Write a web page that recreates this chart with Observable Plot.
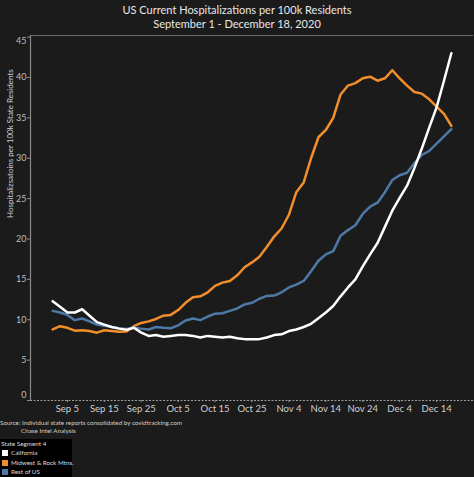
<!DOCTYPE html>
<html><head><meta charset="utf-8">
<script src="https://cdn.jsdelivr.net/npm/d3@7"></script>
<script src="https://cdn.jsdelivr.net/npm/@observablehq/plot@0.6"></script>
<style>
body{margin:0;background:#1b1b1b;width:474px;height:477px;overflow:hidden;font-family:Lato,sans-serif;color:#ddd;}
#wrap{position:relative;width:474px;height:477px;}
#title{position:absolute;top:3px;left:0;width:474px;text-align:center;font-size:11px;line-height:14px;color:#e8e8e8;}
#chart{position:absolute;top:32px;left:0;}
#cap{position:absolute;top:419px;left:0;font-size:6.3px;line-height:8px;color:#cfcfcf;white-space:nowrap;}
#cap div:nth-child(2){padding-left:21px;}
#legend{position:absolute;left:0;top:439px;width:72px;height:38px;background:#000;font-size:6.3px;color:#ddd;white-space:nowrap;}
#legend .t{position:absolute;left:1px;top:1px;}
#legend .r{position:absolute;left:2px;height:8px;line-height:7px;white-space:nowrap;}
#legend .s{display:inline-block;width:6px;height:6px;vertical-align:middle;margin-right:3px;}
</style>
</head><body>
<div id="wrap">
  <div id="title"><div>US Current Hospitalizations per 100k Residents</div><div>September 1 - December 18, 2020</div></div>
  <div id="chart"></div>
  <div id="cap"><div>Source: Individual state reports consolidated by covidtracking.com</div><div>Chase Intel Analysis</div></div>
  <div id="legend"></div>
</div>
<script>
const dates = [
 "2020-09-01","2020-09-03","2020-09-05","2020-09-07","2020-09-09","2020-09-11","2020-09-13","2020-09-15","2020-09-17","2020-09-19","2020-09-21","2020-09-23","2020-09-25","2020-09-27","2020-09-29",
 "2020-10-01","2020-10-03","2020-10-05","2020-10-07","2020-10-09","2020-10-11","2020-10-13","2020-10-15","2020-10-17","2020-10-19","2020-10-21","2020-10-23","2020-10-25","2020-10-27","2020-10-29","2020-10-31",
 "2020-11-02","2020-11-04","2020-11-06","2020-11-08","2020-11-10","2020-11-12","2020-11-14","2020-11-16","2020-11-18","2020-11-20","2020-11-22","2020-11-24","2020-11-26","2020-11-28","2020-11-30",
 "2020-12-02","2020-12-04","2020-12-06","2020-12-08","2020-12-10","2020-12-12","2020-12-14","2020-12-16","2020-12-18"
];
const seriesNames = ["California","Midwest & Rock Mtns.","Rest of US"];
const seriesColors = ["#ffffff","#f28e2b","#4e79a7"];
const california = [12.3,11.6,10.9,10.9,11.3,10.5,9.7,9.4,9.1,8.9,8.75,9.0,8.4,8.0,8.1,
 7.9,8.0,8.1,8.1,8.0,7.8,8.0,7.9,7.8,7.9,7.7,7.6,7.6,7.6,7.8,8.1,
 8.2,8.6,8.8,9.1,9.5,10.2,10.9,11.7,12.9,14.0,15.0,16.6,18.1,19.5,21.5,
 23.5,25.1,26.6,28.8,31.2,33.8,36.3,39.6,43.0];
const midwest = [8.8,9.2,9.0,8.65,8.7,8.6,8.4,8.7,8.6,8.5,8.55,9.2,9.6,9.8,10.1,
 10.5,10.6,11.2,12.1,12.8,12.9,13.4,14.2,14.6,14.8,15.5,16.5,17.1,17.8,19.0,20.3,
 21.3,23.0,25.8,27.0,30.0,32.6,33.5,35.0,37.9,39.0,39.3,39.9,40.1,39.6,39.9,
 40.9,39.9,39.0,38.2,38.0,37.3,36.4,35.5,34.0];
const restOfUS = [11.1,10.9,10.6,9.95,10.15,9.8,9.4,9.25,9.1,8.95,8.85,9.05,8.9,8.8,9.1,
 9.0,8.95,9.3,9.9,10.15,9.95,10.4,10.75,10.8,11.1,11.4,11.9,12.1,12.6,12.95,13.0,
 13.4,14.0,14.35,14.8,16.0,17.3,18.1,18.5,20.4,21.1,21.7,23.1,24.0,24.5,25.8,
 27.3,27.9,28.2,29.4,30.4,30.9,31.8,32.7,33.6];
const xTickLabels = ["2020-09-05","2020-09-15","2020-09-25","2020-10-05","2020-10-15","2020-10-25","2020-11-04","2020-11-14","2020-11-24","2020-12-04","2020-12-14"];
const yTicks = [0,5,10,15,20,25,30,35,40,45];
const yLabel = "Hospitalizsatoins per 100k State Residents";
const legendTitle = "State Segment 4";

const parse = d3.utcParse("%Y-%m-%d");
const values = [california, midwest, restOfUS];
const rows = [];
[1,2,0].forEach(si => values[si].forEach((v,i) => rows.push({date: parse(dates[i]), value: v, series: seriesNames[si]})));
const xMin = parse("2020-08-26"), xMax = parse("2020-12-24");
const yMax = 45.2;

const chart = Plot.plot({
  width: 474, height: 386,
  marginLeft: 30, marginRight: 1, marginTop: 3, marginBottom: 18,
  style: {background: "transparent", color: "#bdbdbd", fontFamily: "Lato, sans-serif", fontSize: "9px", overflow: "visible"},
  x: {type: "utc", domain: [xMin, xMax]},
  y: {domain: [0, yMax]},
  color: {domain: seriesNames, range: seriesColors},
  marks: [
    Plot.ruleY([yMax], {stroke: "#6a6a6a", strokeWidth: 1.2}),
    Plot.ruleX([xMin], {stroke: "#8a8a8a", strokeWidth: 1.2}),
    Plot.ruleY([0], {stroke: "#9a9a9a", strokeDasharray: "2,1.5"}),
    Plot.axisY({ticks: yTicks, tickSize: 3, tickFormat: () => "", label: null, stroke: "#8a8a8a"}),
    Plot.text(yTicks, {y: d => d === 0 ? 0.7 : d === 45 ? 44.5 : d, text: d => String(d), frameAnchor: "left", dx: -4, textAnchor: "end", fill: "#bdbdbd", fontSize: 9}),
    Plot.axisX({ticks: xTickLabels.map(parse), tickFormat: d3.utcFormat("%b %-d"), tickSize: 2, tickPadding: 3, label: null, fontSize: 9.5, stroke: "#9a9a9a", fill: "#cfcfcf"}),
    Plot.text([yLabel], {frameAnchor: "left", rotate: -90, dx: -20, fill: "#cfcfcf", fontSize: 8}),
    Plot.line(rows, {x: "date", y: "value", z: "series", stroke: "series", strokeWidth: 2.5, strokeLinejoin: "round"})
  ]
});
document.getElementById("chart").appendChild(chart);

const lg = document.getElementById("legend");
lg.innerHTML = `<div class="t">${legendTitle}</div>` + seriesNames.map((n,i) =>
  `<div class="r" style="top:${10 + i*9.5}px"><span class="s" style="background:${seriesColors[i]}"></span>${n}</div>`).join("");
</script>
</body></html>
